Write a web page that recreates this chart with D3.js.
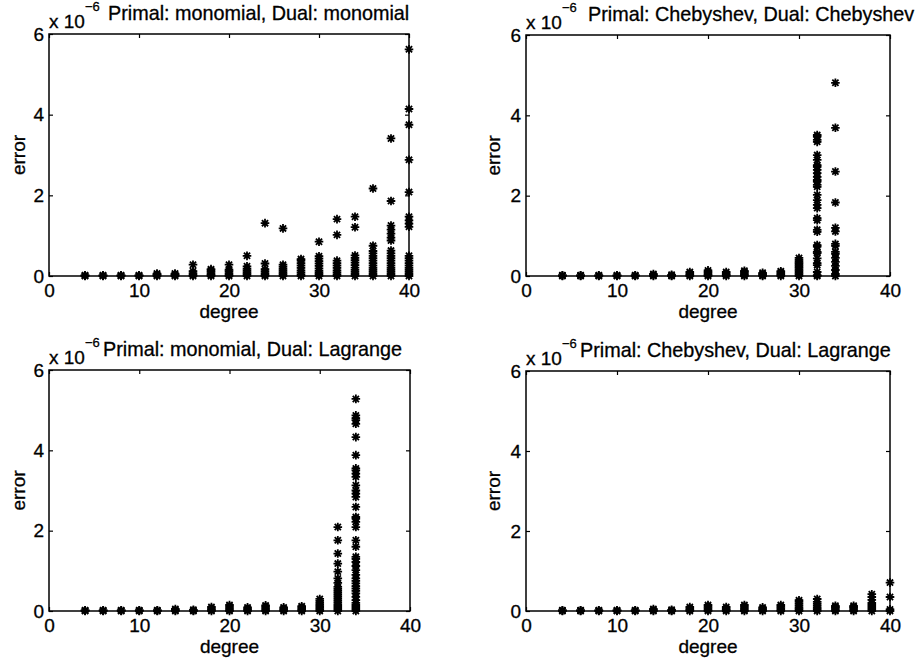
<!DOCTYPE html>
<html>
<head>
<meta charset="utf-8">
<script src="https://cdn.jsdelivr.net/npm/d3@7"></script>
<style>
  html, body { margin: 0; padding: 0; background: #fff; }
  svg { display: block; }
  text { font-family: "Liberation Sans", Arial, Helvetica, sans-serif; fill: #000; stroke: #000; stroke-width: 0.3px; }
</style>
</head>
<body>
<svg id="chart" width="917" height="660"></svg>
<script>
// ---- data (error values in units of 1e-6) ----
const degrees = [4, 6, 8, 10, 12, 14, 16, 18, 20, 22, 24, 26, 28, 30, 32, 34, 36, 38, 40];
const xTicks = [0, 10, 20, 30, 40];
const yTicks = [0, 2, 4, 6];

const titles = [
  "Primal: monomial, Dual: monomial",
  "Primal: Chebyshev, Dual: Chebyshev",
  "Primal: monomial, Dual: Lagrange",
  "Primal: Chebyshev, Dual: Lagrange"
];

// Primal: monomial, Dual: monomial
const monoMono = [
  [0, 0.01, 0.02],
  [0, 0.01, 0.02],
  [0, 0.01, 0.02],
  [0, 0.01, 0.02],
  [0, 0.02, 0.04, 0.06],
  [0, 0.02, 0.04, 0.06],
  [0, 0.03, 0.07, 0.12, 0.28],
  [0, 0.03, 0.06, 0.1, 0.14, 0.17],
  [0, 0.03, 0.07, 0.12, 0.16, 0.28],
  [0, 0.04, 0.08, 0.13, 0.18, 0.24, 0.5],
  [0, 0.03, 0.07, 0.12, 0.17, 0.31, 1.31],
  [0, 0.04, 0.08, 0.13, 0.18, 0.23, 0.28, 1.18],
  [0, 0.04, 0.09, 0.14, 0.2, 0.26, 0.32, 0.38, 0.42],
  [0, 0.04, 0.08, 0.13, 0.19, 0.25, 0.31, 0.37, 0.43, 0.49, 0.85],
  [0, 0.04, 0.09, 0.14, 0.2, 0.26, 0.32, 0.38, 1.02, 1.41],
  [0, 0.05, 0.1, 0.15, 0.21, 0.27, 0.33, 0.39, 0.45, 0.51, 1.21, 1.47],
  [0, 0.05, 0.1, 0.15, 0.2, 0.26, 0.32, 0.38, 0.44, 0.5, 0.56, 0.62, 0.75, 2.17],
  [0, 0.05, 0.1, 0.15, 0.2, 0.26, 0.32, 0.38, 0.44, 0.5, 0.56, 0.63, 0.88, 0.95, 1.05, 1.15, 1.25, 1.86, 3.41],
  [0, 0.05, 0.1, 0.15, 0.2, 0.26, 0.32, 0.38, 0.44, 0.5, 1.22, 1.3, 1.38, 1.47, 2.08, 2.88, 3.75, 4.14, 5.62]
];

// Primal: Chebyshev, Dual: Chebyshev (no results past degree 34)
const chebCheb = [
  [0, 0.01, 0.02],
  [0, 0.01, 0.02],
  [0, 0.01, 0.02],
  [0, 0.01, 0.02],
  [0, 0.01, 0.02],
  [0, 0.02, 0.05],
  [0, 0.01, 0.03],
  [0, 0.03, 0.06, 0.1],
  [0, 0.03, 0.06, 0.1, 0.14],
  [0, 0.03, 0.06, 0.1],
  [0, 0.03, 0.06, 0.1, 0.13],
  [0, 0.02, 0.05, 0.08],
  [0, 0.03, 0.06, 0.09, 0.12],
  [0, 0.04, 0.08, 0.12, 0.16, 0.2, 0.24, 0.28, 0.32, 0.36, 0.4, 0.45],
  [0, 0.02, 0.1, 0.27, 0.32, 0.44, 0.57, 0.6, 0.73, 0.77, 1.1, 1.15, 1.39, 1.44, 1.69, 1.77, 1.89, 2.02, 2.22, 2.27, 2.35, 2.39, 2.47, 2.56, 2.64, 2.72, 2.76, 2.89, 3.01, 3.34, 3.39, 3.47, 3.51],
  [0, 0.05, 0.15, 0.25, 0.35, 0.45, 0.55, 0.6, 0.75, 0.8, 1.11, 1.2, 1.83, 2.6, 3.69, 4.81],
  [],
  [],
  []
];

// Primal: monomial, Dual: Lagrange (no results past degree 34)
const monoLag = [
  [0, 0.01, 0.02],
  [0, 0.01, 0.02],
  [0, 0.01, 0.02],
  [0, 0.01, 0.02],
  [0, 0.01, 0.02],
  [0, 0.02, 0.05],
  [0, 0.01, 0.03],
  [0, 0.03, 0.06, 0.1],
  [0, 0.03, 0.07, 0.11, 0.15],
  [0, 0.03, 0.06, 0.09],
  [0, 0.03, 0.07, 0.11, 0.14],
  [0, 0.03, 0.06, 0.09],
  [0, 0.03, 0.06, 0.09, 0.12],
  [0, 0.04, 0.08, 0.12, 0.16, 0.2, 0.25, 0.3],
  [0, 0.05, 0.1, 0.15, 0.2, 0.25, 0.3, 0.35, 0.4, 0.45, 0.5, 0.55, 0.6, 0.7, 0.81, 0.98, 1.18, 1.43, 1.76, 2.09],
  [0, 0.05, 0.1, 0.15, 0.2, 0.27, 0.35, 0.44, 0.5, 0.56, 0.62, 0.69, 0.75, 0.81, 0.9, 1.02, 1.12, 1.22, 1.3, 1.35, 1.6, 1.76, 2.09, 2.22, 2.3, 2.34, 2.59, 2.84, 2.92, 3.0, 3.13, 3.34, 3.42, 3.5, 3.55, 3.88, 4.33, 4.66, 4.75, 4.8, 4.87, 5.28],
  [],
  [],
  []
];

// Primal: Chebyshev, Dual: Lagrange
const chebLag = [
  [0, 0.01, 0.02],
  [0, 0.01, 0.02],
  [0, 0.01, 0.02],
  [0, 0.01, 0.02],
  [0, 0.01, 0.02],
  [0, 0.02, 0.05],
  [0, 0.01, 0.03],
  [0, 0.03, 0.06, 0.1],
  [0, 0.03, 0.07, 0.11, 0.15],
  [0, 0.03, 0.06, 0.1],
  [0, 0.03, 0.07, 0.11, 0.15],
  [0, 0.03, 0.06, 0.09],
  [0, 0.03, 0.07, 0.11, 0.15],
  [0, 0.04, 0.08, 0.13, 0.18, 0.23, 0.27],
  [0, 0.04, 0.08, 0.13, 0.18, 0.23, 0.3],
  [0, 0.03, 0.07, 0.1, 0.13],
  [0, 0.03, 0.07, 0.1, 0.13],
  [0, 0.05, 0.1, 0.15, 0.2, 0.28, 0.35, 0.42],
  [0, 0.04, 0.35, 0.71]
];

const panelData = [monoMono, chebCheb, monoLag, chebLag];

// ---- layout ----
const svg = d3.select("#chart");
const panels = [
  { x: 49,  y: 34,  w: 360, h: 242, titleX: 108, errX: 25 },
  { x: 526, y: 35,  w: 364, h: 241, titleX: 588, errX: 500 },
  { x: 49,  y: 370, w: 361, h: 241, titleX: 103, errX: 25 },
  { x: 526, y: 371, w: 364, h: 240, titleX: 580, errX: 500 }
];

const FS = 19;
const FONT = '"Liberation Sans", Arial, Helvetica, sans-serif';

// asterisk marker (MATLAB '*')
const r = 4.3;
function starPath(cx, cy) {
  const d = r * 0.72;
  return `M${cx - r},${cy}L${cx + r},${cy}M${cx},${cy - r}L${cx},${cy + r}` +
         `M${cx - d},${cy - d}L${cx + d},${cy + d}M${cx - d},${cy + d}L${cx + d},${cy - d}`;
}

panels.forEach((p, i) => {
  const g = svg.append("g").attr("transform", `translate(${p.x},${p.y})`);
  const x = d3.scaleLinear().domain([0, 40]).range([0, p.w]);
  const y = d3.scaleLinear().domain([0, 6]).range([p.h, 0]);

  // data points
  const pts = [];
  panelData[i].forEach((vals, k) => vals.forEach(v => pts.push({ d: degrees[k], v })));
  g.append("g").selectAll("path").data(pts).join("path")
    .attr("d", q => starPath(x(q.d), y(q.v)))
    .attr("stroke", "#000").attr("stroke-width", 1.8).attr("fill", "none");

  // axes (ticks inside, MATLAB style)
  const ax = g.append("g").attr("transform", `translate(0,${p.h})`)
    .call(d3.axisBottom(x).tickValues(xTicks).tickSize(-4).tickPadding(8).tickFormat(d3.format("d")));
  const axT = g.append("g")
    .call(d3.axisTop(x).tickValues(xTicks).tickSize(-4).tickFormat(""));
  const ay = g.append("g")
    .call(d3.axisLeft(y).tickValues(yTicks).tickSize(-4).tickPadding(5).tickFormat(d3.format("d")));
  const ayR = g.append("g").attr("transform", `translate(${p.w},0)`)
    .call(d3.axisRight(y).tickValues(yTicks).tickSize(-4).tickFormat(""));
  [ax, axT, ay, ayR].forEach(a => {
    a.select(".domain").remove();
    a.selectAll("line").attr("stroke", "#000").attr("stroke-width", 1.2);
    a.selectAll("text").attr("font-size", FS).attr("fill", "#000").attr("font-family", FONT);
  });
  ax.selectAll("text").attr("dy", "0.71em");

  // box
  g.append("rect").attr("x", 0).attr("y", 0).attr("width", p.w).attr("height", p.h)
    .attr("fill", "none").attr("stroke", "#000").attr("stroke-width", 1.5);

  // labels
  g.append("text").attr("x", p.w / 2).attr("y", p.h + 42)
    .attr("text-anchor", "middle").attr("font-size", FS).text("degree");
  g.append("text")
    .attr("transform", `translate(${p.errX - p.x},${p.h / 2}) rotate(-90)`)
    .attr("text-anchor", "middle").attr("font-size", FS).text("error");

  // exponent label "x 10^-6"
  const ex = g.append("text").attr("x", 0).attr("y", -6).attr("font-size", FS);
  ex.append("tspan").text("x 10");
  ex.append("tspan").attr("dy", -17).attr("font-size", 13).text("\u22126");

  // title
  g.append("text").attr("x", p.titleX - p.x).attr("y", -14)
    .attr("font-size", 19.8).text(titles[i]);
});
</script>
</body>
</html>
